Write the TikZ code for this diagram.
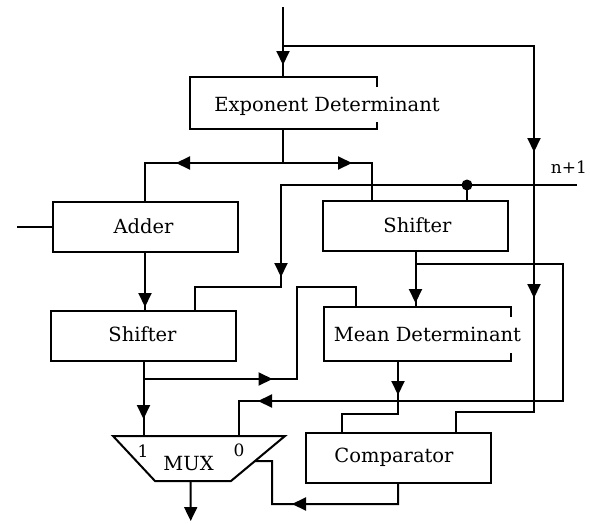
\documentclass[tikz,border=0pt]{standalone}
\usepackage{fontspec}
\setmainfont{DejaVu Serif}
\usetikzlibrary{arrows.meta,decorations.markings,calc}
\begin{document}
\begin{tikzpicture}[x=1pt,y=-1pt,line width=2pt,
  box/.style={draw,minimum width=185pt,minimum height=50pt,inner sep=0pt},
  ghost/.style={minimum width=185pt,minimum height=50pt,inner sep=0pt},
  lbl/.style={font=\fontsize{19.5}{22}\selectfont,inner sep=0pt,anchor=base},
  small/.style={font=\fontsize{17}{19}\selectfont,inner sep=0pt,anchor=base},
  tipat/.style={postaction={decorate},decoration={markings,mark=at position #1 with {\arrow{Triangle[length=14pt,width=13pt]}}}},
  tiptwo/.style 2 args={postaction={decorate},decoration={markings,
     mark=at position #1 with {\arrow{Triangle[length=14pt,width=13pt]}},
     mark=at position #2 with {\arrow{Triangle[length=14pt,width=13pt]}}}},
  endtip/.style={-{Triangle[length=14pt,width=13pt]}}
]
\useasboundingbox[fill=white] (0,0) rectangle (590,523);

% boxes
\node[ghost] (ed) at (283,103) {};
\draw ($(ed.north east)+(0,10)$) -- (ed.north east) -- (ed.north west) -- (ed.south west) -- (ed.south east) -- ++(0,-7);
\node[box] (adder) at (145,227) {};
\node[box] (sh1) at (415.5,226) {};
\node[box] (sh2) at (143.5,336) {};
\node[ghost,minimum height=52pt] (md) at (417,334) {};
\draw ($(md.north east)+(0,10)$) -- (md.north east) -- (md.north west) -- (md.south west) -- (md.south east) -- ++(0,-8);
\node[box] (cmp) at (398,458) {};

% MUX
\coordinate (mtl) at (113,436);
\coordinate (mtr) at (285,436);
\coordinate (mbr) at (231,481);
\coordinate (mbl) at (155,481);
\draw (mtl) -- (mtr) -- (mbr) -- (mbl) -- cycle;

% labels
\node[lbl] (tED) at (327,111) {Exponent Determinant};
\node[lbl] (tAd) at (143.5,233) {Adder};
\node[lbl] (tS1) at (417.5,232) {Shifter};
\node[lbl] (tS2) at (142.5,341) {Shifter};
\node[lbl] (tMD) at (427.5,341) {Mean Determinant};
\node[lbl] (tCm) at (394,462) {Comparator};
\node[lbl] (tMx) at (188.5,470) {MUX};
\node[small] (t1) at (143,457) {1};
\node[small] (t0) at (239,456) {0};
\node[small] (tn) at (569,173) {n+1};

% coordinates
\coordinate (in1) at (283,7);
\coordinate (j1) at (283,46);
\coordinate (r1) at (534,46);
\coordinate (r2) at (534,412);
\coordinate (r3) at (456,412);
\coordinate (split) at (283,163);
\coordinate (sr) at (372,163);
\coordinate (ain) at (17,227);
\coordinate (nend) at (577,185);
\coordinate (f1) at (281,185);
\coordinate (f2) at (281,287);
\coordinate (f3) at (195,287);
\coordinate (dot) at (467,185);
\coordinate (b1) at (415.5,264);
\coordinate (b1a) at (563,264);
\coordinate (b1b) at (563,401);
\coordinate (b1c) at (239,401);
\coordinate (b2) at (143.5,379);
\coordinate (b2a) at (297,379);
\coordinate (b2b) at (297,287);
\coordinate (b2c) at (356,287);
\coordinate (mdo) at (398,360);
\coordinate (mdb) at (398,414);
\coordinate (mdc) at (342,414);
\coordinate (cb) at (398,504);
\coordinate (cc) at (272,504);
\coordinate (cd) at (272,461);
\coordinate (sel) at ($(mtr)!0.556!(mbr)$);
\coordinate (mo) at ($(mbl)!0.47!(mbr)$);
\coordinate (mend) at (190.7,521);

% connectors
\draw[tipat=58pt] (in1) -- (ed.north);
\draw[tiptwo={357pt}{503pt}] (j1) -- (r1) -- (r2) -- (r3) -- (r3 |- cmp.north);
\draw (ed.south) -- (split);
\draw[tipat=107pt] (split) -- (split -| adder.north) -- (adder.north);
\draw[tipat=69pt] (split) -- (sr) -- (sr |- sh1.north);
\draw (ain) -- (adder.west);
\draw[tipat=54pt] (adder.south) -- (adder.south |- sh2.north);
\draw[tipat=388pt] (nend) -- (f1) -- (f2) -- (f3) -- (f3 |- sh2.north);
\draw (dot) -- (dot |- sh1.north);
\fill (dot) circle (5.5pt);
\draw[tipat=51pt] (sh1.south) -- (sh1.south |- md.north);
\draw[tipat=589.5pt] (b1) -- (b1a) -- (b1b) -- (b1c) -- (b1c |- mtr);
\draw[tipat=57pt] (sh2.south) -- (sh2.south |- mtl);
\draw[tipat=129pt] (b2) -- (b2a) -- (b2b) -- (b2c) -- (b2c |- md.north);
\draw[tipat=35pt] (mdo) -- (mdb) -- (mdc) -- (mdc |- cmp.north);
\draw[tipat=126pt] (cmp.south) -- (cb) -- (cc) -- (cd) -- (sel);
\draw[endtip] (mo) -- (mend);
\end{tikzpicture}
\end{document}
